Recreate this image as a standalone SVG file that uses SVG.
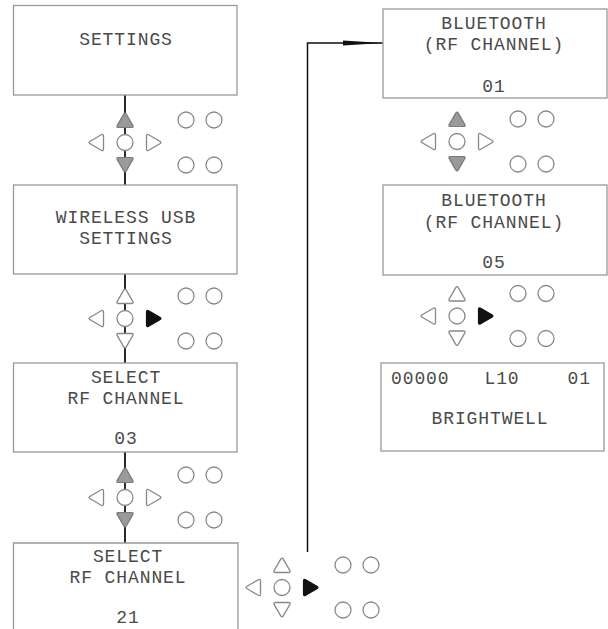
<svg xmlns="http://www.w3.org/2000/svg" xmlns:xlink="http://www.w3.org/1999/xlink" width="608" height="629" viewBox="0 0 608 629">
<style>
.box{fill:#fff;stroke:#999;stroke-width:1.3}
.t{font-family:"Liberation Mono","DejaVu Sans Mono",monospace;font-size:18px;letter-spacing:0.9px;fill:#4a4a4a;text-anchor:middle}
.ts{text-anchor:start}
.te{text-anchor:end}
.o{fill:#fff;stroke:#888;stroke-width:1.3}
.g{fill:#9a9a9a;stroke:#7a7a7a;stroke-width:1.2}
.b{fill:#111;stroke:#111;stroke-width:1.2}
.c{fill:#fff;stroke:#888;stroke-width:1.3}
.ln{fill:none;stroke:#111;stroke-width:1.8}
</style>
<defs>
<path id="tri" d="M -6.5,7.5 H 6.5 Q 9,7.5 7.74,5.34 L 1.26,-5.84 Q 0,-8 -1.26,-5.84 L -7.74,5.34 Q -9,7.5 -6.5,7.5 Z"/>
<g id="circles">
<circle class="c" cx="61" cy="-22.5" r="8"/>
<circle class="c" cx="89" cy="-22.5" r="8"/>
<circle class="c" cx="61" cy="22.5" r="8"/>
<circle class="c" cx="89" cy="22.5" r="8"/>
</g>
</defs>
<rect width="608" height="629" fill="#fff"/>

<g id="connectors">
<line class="ln" x1="125" y1="95" x2="125" y2="185"/>
<line class="ln" x1="125" y1="274" x2="125" y2="363"/>
<line class="ln" x1="125" y1="452" x2="125" y2="543"/>
<polyline class="ln" style="stroke-width:1.5" points="307.5,552 307.5,43 383,43"/>
<polygon points="343,40.6 383,43 343,45.4" fill="#111"/>
</g>

<g id="settings">
<rect class="box" x="13.5" y="5.5" width="223.5" height="89.5"/>
<text class="t" x="126" y="45">SETTINGS</text>
</g>
<g id="wireless-usb-settings">
<rect class="box" x="13.5" y="185" width="223.5" height="89"/>
<text class="t" x="126" y="223">WIRELESS USB</text>
<text class="t" x="126" y="244">SETTINGS</text>
</g>
<g id="select-rf-03">
<rect class="box" x="13.5" y="363" width="223.5" height="89"/>
<text class="t" x="126" y="383">SELECT</text>
<text class="t" x="126" y="404">RF CHANNEL</text>
<text class="t" x="126" y="444">03</text>
</g>
<g id="select-rf-21">
<path class="box" d="M13.5,630 V543 H238 V630"/>
<text class="t" x="128" y="562">SELECT</text>
<text class="t" x="128" y="583">RF CHANNEL</text>
<text class="t" x="128" y="623">21</text>
</g>
<g id="bluetooth-01">
<rect class="box" x="383" y="9" width="224" height="89"/>
<text class="t" x="494" y="29">BLUETOOTH</text>
<text class="t" x="494" y="50">(RF CHANNEL)</text>
<text class="t" x="494" y="92">01</text>
</g>
<g id="bluetooth-05">
<rect class="box" x="383" y="185" width="224" height="90"/>
<text class="t" x="494" y="206">BLUETOOTH</text>
<text class="t" x="494" y="228">(RF CHANNEL)</text>
<text class="t" x="494" y="268">05</text>
</g>
<g id="brightwell">
<rect class="box" x="381" y="363" width="223" height="88"/>
<text class="t ts" x="391" y="384">00000</text>
<text class="t" x="502" y="384">L10</text>
<text class="t te" x="591" y="384">01</text>
<text class="t" x="490" y="424">BRIGHTWELL</text>
</g>

<g id="keypad-1" transform="translate(125,142.5)">
<use href="#tri" class="g" transform="translate(0,-22.5)"/>
<use href="#tri" class="g" transform="translate(0,22.5) rotate(180)"/>
<use href="#tri" class="o" transform="translate(-29,0) rotate(270)"/>
<use href="#tri" class="o" transform="translate(29,0) rotate(90)"/>
<circle class="c" cx="0" cy="0" r="8"/>
<use href="#circles"/>
</g>
<g id="keypad-2" transform="translate(125,318.5)">
<use href="#tri" class="o" transform="translate(0,-22.5)"/>
<use href="#tri" class="o" transform="translate(0,22.5) rotate(180)"/>
<use href="#tri" class="o" transform="translate(-29,0) rotate(270)"/>
<use href="#tri" class="b" transform="translate(29,0) rotate(90)"/>
<circle class="c" cx="0" cy="0" r="8"/>
<use href="#circles"/>
</g>
<g id="keypad-3" transform="translate(125,497.5)">
<use href="#tri" class="g" transform="translate(0,-22.5)"/>
<use href="#tri" class="g" transform="translate(0,22.5) rotate(180)"/>
<use href="#tri" class="o" transform="translate(-29,0) rotate(270)"/>
<use href="#tri" class="o" transform="translate(29,0) rotate(90)"/>
<circle class="c" cx="0" cy="0" r="8"/>
<use href="#circles"/>
</g>
<g id="keypad-4" transform="translate(282,587.5)">
<use href="#tri" class="o" transform="translate(0,-22.5)"/>
<use href="#tri" class="o" transform="translate(0,22.5) rotate(180)"/>
<use href="#tri" class="o" transform="translate(-29,0) rotate(270)"/>
<use href="#tri" class="b" transform="translate(29,0) rotate(90)"/>
<circle class="c" cx="0" cy="0" r="8"/>
<use href="#circles"/>
</g>
<g id="keypad-5" transform="translate(457,141.5)">
<use href="#tri" class="g" transform="translate(0,-22.5)"/>
<use href="#tri" class="g" transform="translate(0,22.5) rotate(180)"/>
<use href="#tri" class="o" transform="translate(-29,0) rotate(270)"/>
<use href="#tri" class="o" transform="translate(29,0) rotate(90)"/>
<circle class="c" cx="0" cy="0" r="8"/>
<use href="#circles"/>
</g>
<g id="keypad-6" transform="translate(457,316)">
<use href="#tri" class="o" transform="translate(0,-22.5)"/>
<use href="#tri" class="o" transform="translate(0,22.5) rotate(180)"/>
<use href="#tri" class="o" transform="translate(-29,0) rotate(270)"/>
<use href="#tri" class="b" transform="translate(29,0) rotate(90)"/>
<circle class="c" cx="0" cy="0" r="8"/>
<use href="#circles"/>
</g>
</svg>
